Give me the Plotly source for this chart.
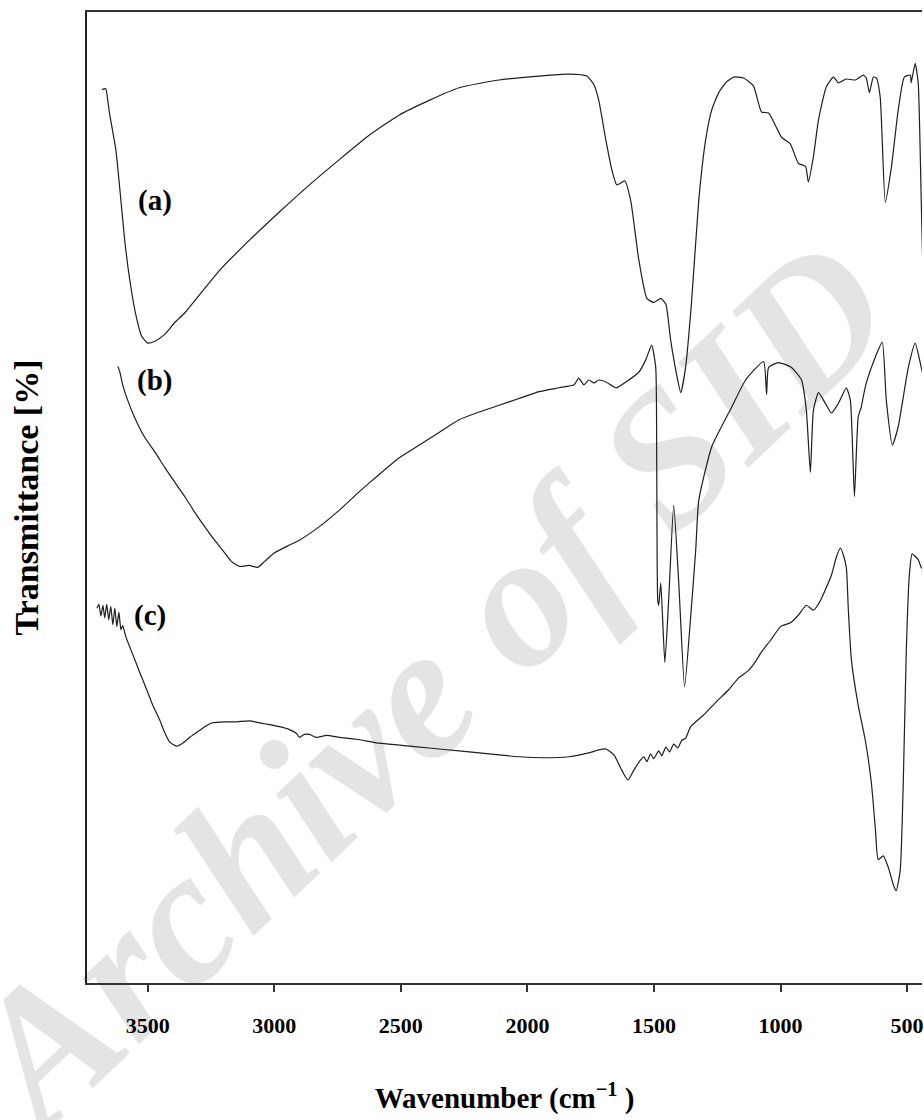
import plotly.graph_objects as go

# FTIR spectra: wavenumber (cm-1) vs. transmittance (arbitrary offset scale)
wn_a = [3681, 3666, 3658, 3650, 3626, 3610, 3591, 3571, 3547, 3524,
        3500, 3472, 3433, 3394, 3354, 3295, 3216, 3098, 2980, 2861,
        2743, 2625, 2506, 2388, 2270, 2112, 1954, 1836, 1765, 1737,
        1718, 1690, 1666, 1647, 1615, 1592, 1560, 1528, 1501, 1473,
        1453, 1434, 1410, 1394, 1375, 1351, 1323, 1296, 1272, 1244,
        1213, 1185, 1146, 1107, 1075, 1047, 996, 961, 929, 901,
        890, 870, 850, 819, 791, 771, 740, 704, 673, 661,
        649, 633, 621, 606, 586, 562, 535, 511, 487, 484,
        468, 456, 444, 432]
tr_a = [92.0, 92.1, 90.9, 89.4, 85.8, 81.7, 76.5, 72.4, 68.8, 66.6,
        65.9, 66.1, 66.8, 68.0, 69.0, 70.9, 73.4, 76.5, 79.4, 82.2,
        84.8, 87.3, 89.4, 90.9, 92.2, 93.0, 93.4, 93.6, 93.4, 92.5,
        90.9, 86.8, 83.7, 82.2, 82.6, 80.6, 74.5, 70.5, 70.1, 70.5,
        69.9, 66.2, 62.6, 60.8, 63.4, 70.3, 80.6, 86.8, 89.9, 91.7,
        92.8, 93.3, 93.2, 92.4, 89.7, 89.6, 87.1, 86.4, 84.4, 84.1,
        82.5, 85.1, 88.9, 92.3, 93.3, 92.7, 93.1, 93.0, 93.5, 93.2,
        91.7, 93.3, 93.2, 91.2, 80.4, 84.0, 89.9, 93.3, 93.5, 92.7,
        94.7, 92.7, 80.6, 67.3]

wn_b = [3618, 3610, 3599, 3579, 3551, 3512, 3472, 3433, 3394, 3354,
        3315, 3275, 3236, 3196, 3169, 3137, 3098, 3066, 3039, 2999,
        2940, 2901, 2822, 2743, 2664, 2585, 2506, 2427, 2349, 2270,
        2191, 2112, 2033, 1954, 1875, 1816, 1797, 1777, 1757, 1737,
        1718, 1690, 1650, 1611, 1560, 1532, 1509, 1493, 1489, 1485,
        1481, 1473, 1457, 1442, 1422, 1402, 1379, 1355, 1335, 1323,
        1272, 1193, 1138, 1067, 1055, 1047, 1008, 957, 917, 898,
        882, 870, 850, 823, 799, 771, 740, 724, 708, 693,
        681, 673, 661, 625, 598, 582, 558, 535, 495, 468,
        444, 432]
tr_b = [63.5, 62.9, 61.6, 60.0, 58.2, 56.2, 54.7, 53.1, 51.6, 50.1,
        48.5, 47.0, 45.6, 44.3, 43.4, 42.9, 43.0, 42.8, 43.4, 44.3,
        45.1, 45.6, 47.0, 48.7, 50.6, 52.4, 54.1, 55.4, 56.7, 58.0,
        58.8, 59.5, 60.2, 60.9, 61.3, 61.6, 62.3, 61.6, 62.1, 61.8,
        62.1, 61.9, 61.3, 61.9, 62.9, 64.2, 65.7, 63.4, 53.1, 39.4,
        38.9, 41.2, 33.0, 39.4, 49.2, 41.2, 30.5, 37.7, 44.6, 49.7,
        55.2, 59.3, 62.1, 64.0, 60.6, 63.4, 63.9, 63.4, 62.1, 59.0,
        52.6, 59.0, 60.8, 59.7, 58.7, 59.7, 61.3, 60.0, 50.1, 58.3,
        59.3, 60.4, 61.8, 64.5, 66.0, 60.0, 55.4, 57.3, 63.4, 65.9,
        63.4, 62.1]

wn_c = [3701, 3693, 3685, 3677, 3670, 3662, 3654, 3646, 3638, 3630,
        3622, 3614, 3606, 3599, 3587, 3571, 3551, 3532, 3504, 3480,
        3453, 3433, 3413, 3386, 3362, 3334, 3307, 3275, 3244, 3196,
        3149, 3098, 3039, 2980, 2940, 2912, 2901, 2881, 2861, 2834,
        2794, 2743, 2676, 2585, 2506, 2388, 2270, 2151, 2033, 1935,
        1836, 1757, 1718, 1690, 1658, 1627, 1603, 1580, 1552,
        1540, 1528, 1513, 1501, 1481, 1469, 1453, 1438, 1422, 1406, 1390, 1375,
        1355, 1304, 1256, 1205, 1166, 1126, 1099, 1075, 1039, 1000,
        961, 929, 898, 870, 842, 799, 779, 763, 752, 740,
        732, 720, 693, 665, 641, 625, 614, 594, 574, 554,
        543, 527, 515, 503, 491, 480, 456, 444, 432]
tr_c = [38.6, 39.0, 37.8, 38.9, 37.6, 39.0, 37.4, 38.8, 36.9, 38.6,
        36.7, 38.2, 36.4, 36.8, 35.7, 34.6, 33.3, 32.0, 30.2, 28.6,
        27.1, 25.8, 24.8, 24.4, 24.7, 25.3, 25.8, 26.4, 26.8, 26.9,
        26.9, 27.0, 26.7, 26.4, 26.1, 25.7, 25.3, 25.6, 25.6, 25.3,
        25.5, 25.3, 25.1, 24.7, 24.5, 24.2, 23.9, 23.6, 23.3, 23.2,
        23.3, 23.7, 24.0, 24.1, 23.5, 21.9, 20.9, 21.9, 23.0,
        23.3, 22.8, 23.6, 23.1, 23.9, 23.4, 24.3, 23.8, 24.6, 24.2, 25.0, 25.2,
        26.4, 27.6, 28.9, 30.2, 31.4, 32.2, 33.1, 34.1, 35.3, 36.7,
        37.1, 37.9, 38.9, 38.4, 39.4, 42.0, 43.9, 44.8, 44.1, 42.8,
        38.4, 33.3, 28.6, 25.0, 20.6, 15.8, 12.7, 13.1, 11.9, 10.1,
        9.5, 11.6, 20.6, 34.3, 42.0, 44.2, 43.6, 42.8, 42.5]

# curve labels and where they sit
label_text = ["(a)", "(b)", "(c)"]
label_wn = [3472, 3472, 3492]
label_tr = [80.6, 62.0, 37.8]

tick_vals = [3500, 3000, 2500, 2000, 1500, 1000, 500]
tick_text = [str(v) for v in tick_vals]

SERIF = "Liberation Serif"
LINE = dict(color="#1e1e1e", width=1.2, shape="spline", smoothing=0.5)

fig = go.Figure()
for wn, tr in ((wn_a, tr_a), (wn_b, tr_b), (wn_c, tr_c)):
    fig.add_trace(go.Scatter(x=wn, y=tr, mode="lines", line=LINE,
                             showlegend=False, hoverinfo="skip"))

for t, xw, yt in zip(label_text, label_wn, label_tr):
    fig.add_annotation(x=xw, y=yt, text=t, showarrow=False,
                       font=dict(family=SERIF, size=29, color="black", weight="bold"))

# faint diagonal watermark behind the spectra
fig.add_shape(type="line", xref="paper", yref="paper",
              x0=-0.050, y0=-0.187, x1=1.013, y1=0.678,
              line=dict(color="rgba(0,0,0,0)", width=0), layer="below",
              label=dict(text="Archive of SID", textposition="middle",
                         font=dict(family=SERIF, size=190, color="#e4e4e4",
                                   weight="bold", style="italic")))

fig.update_layout(
    width=924, height=1120,
    margin=dict(l=87, r=0, t=12, b=137),
    paper_bgcolor="white", plot_bgcolor="white",
    xaxis=dict(range=[3740, 441], tickvals=tick_vals, ticktext=tick_text,
               showgrid=False, zeroline=False,
               showline=True, linecolor="#333", linewidth=2, mirror=True,
               ticks="outside", ticklen=7, tickwidth=2, tickcolor="#333",
               ticklabelstandoff=15, ticklabeloverflow="allow",
               tickfont=dict(family=SERIF, size=22, color="black", weight="bold"),
               title=dict(text="Wavenumber (cm<sup>\u22121</sup> )", standoff=50,
                          font=dict(family=SERIF, size=29, color="black", weight="bold"))),
    yaxis=dict(range=[0, 100], showticklabels=False, ticks="",
               showgrid=False, zeroline=False,
               showline=True, linecolor="#222", linewidth=2, mirror=False,
               title=dict(text="Transmittance [%]", standoff=36,
                          font=dict(family=SERIF, size=34, color="black", weight="bold"))),
)

fig.write_html("out.html")
